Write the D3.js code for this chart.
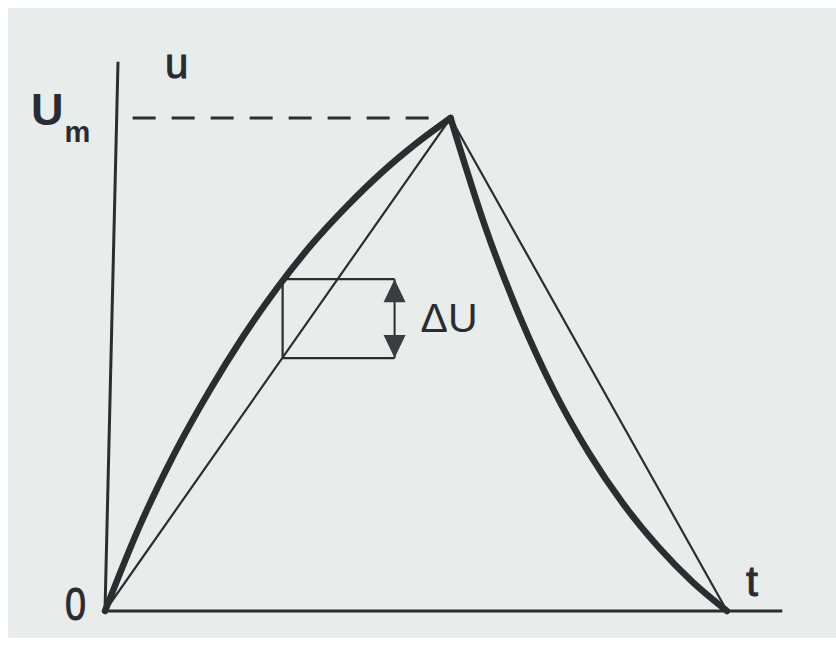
<!DOCTYPE html>
<html>
<head>
<meta charset="utf-8">
<script src="https://cdn.jsdelivr.net/npm/d3@7"></script>
<style>
  html, body { margin: 0; padding: 0; background: #ffffff; }
  svg { display: block; }
  text { font-family: "Liberation Sans", "DejaVu Sans", sans-serif; fill: #2a2c31; }
  .medium { stroke: #2a2c31; stroke-width: 1; }
</style>
</head>
<body>
<div id="d3-container"></div>
<script>
/* CONSTANTS AND GLOBALS */
const width = 836,
  height = 646,
  ink = "#2b2d31";

/* DATA */
// charging part (thick curve), time in arbitrary units, u relative to Um
const riseT = [0, 0.5, 1, 1.5, 2, 2.5, 3, 3.5, 4, 4.5, 5];
const riseU = [0, 0.172, 0.318, 0.444, 0.557, 0.657, 0.745, 0.821, 0.889, 0.948, 1];
// discharging part (thick curve)
const fallT = [5, 5.5, 6, 6.5, 7, 7.5, 8, 8.5, 9];
const fallU = [1, 0.78, 0.598, 0.446, 0.321, 0.217, 0.131, 0.059, 0];
// straight chords (thin lines)
const chordT = [0, 5, 9];
const chordU = [0, 1, 0];
// axis extents
const tMax = 9.8;
const uMax = 1.114;
// ΔU box: left side, arrow position, top and bottom
const deltaT = [2.57, 4.19];
const deltaU = [0.513, 0.673];
// dashed Um guide
const guideT = [0.4, 4.85];
// labels
const uLabel = "u";
const tLabel = "t";
const zeroLabel = "0";
const umMain = "U";
const umSub = "m";
const deltaLabel = "ΔU";

/* SCALES */
const xScale = d3.scaleLinear().domain([0, 9]).range([105, 727]);
const yScale = d3.scaleLinear().domain([0, 1]).range([611, 118]);

const svg = d3.select("#d3-container")
  .append("svg")
  .attr("width", width)
  .attr("height", height);

// paper
svg.append("rect")
  .attr("x", 8).attr("y", 8)
  .attr("width", width - 8).attr("height", 630)
  .attr("fill", "#e8ecea");

// axes
svg.append("line")
  .attr("x1", xScale(0)).attr("y1", yScale(0))
  .attr("x2", xScale(tMax)).attr("y2", yScale(0))
  .attr("stroke", ink).attr("stroke-width", 3);

// the printed y axis leans a little to the right
svg.append("line")
  .attr("x1", xScale(0)).attr("y1", yScale(0))
  .attr("x2", xScale(0) + 13).attr("y2", yScale(uMax))
  .attr("stroke", ink).attr("stroke-width", 3);

// Um dashed guide
svg.append("line")
  .attr("x1", xScale(guideT[0])).attr("y1", yScale(1))
  .attr("x2", xScale(guideT[1])).attr("y2", yScale(1))
  .attr("stroke", ink).attr("stroke-width", 3)
  .attr("stroke-dasharray", "23 16");

const line = d3.line()
  .x(d => xScale(d[0]))
  .y(d => yScale(d[1]));

// thin chords
svg.append("path")
  .datum(chordT.map((t, i) => [t, chordU[i]]))
  .attr("d", line)
  .attr("fill", "none")
  .attr("stroke", ink)
  .attr("stroke-width", 2.2);

// thick curves
const smooth = d3.line()
  .x(d => xScale(d[0]))
  .y(d => yScale(d[1]))
  .curve(d3.curveMonotoneX);

[[riseT, riseU], [fallT, fallU]].forEach(([ts, us]) => {
  svg.append("path")
    .datum(ts.map((t, i) => [t, us[i]]))
    .attr("d", smooth)
    .attr("fill", "none")
    .attr("stroke", ink)
    .attr("stroke-width", 6.5)
    .attr("stroke-linecap", "round");
});

// ΔU box
const bx0 = xScale(deltaT[0]), bx1 = xScale(deltaT[1]),
  by0 = yScale(deltaU[0]), by1 = yScale(deltaU[1]);

svg.append("path")
  .attr("d", `M${bx1},${by1}H${bx0}V${by0}H${bx1}`)
  .attr("fill", "none")
  .attr("stroke", ink)
  .attr("stroke-width", 2.2);

// double arrow
svg.append("line")
  .attr("x1", bx1).attr("y1", by1)
  .attr("x2", bx1).attr("y2", by0)
  .attr("stroke", ink).attr("stroke-width", 2);

const head = 23, half = 11;
svg.append("path")
  .attr("d", `M${bx1},${by1}L${bx1 - half},${by1 + head}H${bx1 + half}Z`)
  .attr("fill", "#3a3c40");
svg.append("path")
  .attr("d", `M${bx1},${by0}L${bx1 - half},${by0 - head}H${bx1 + half}Z`)
  .attr("fill", "#3a3c40");

svg.append("text")
  .attr("x", bx1 + 26).attr("y", by0 - 26)
  .attr("font-size", 41)
  .attr("font-family", "'Open Sans', 'Liberation Sans', sans-serif")
  .attr("font-weight", 300)
  .text(deltaLabel);

// axis labels
svg.append("text")
  .attr("class", "medium")
  .attr("x", 165).attr("y", 78)
  .attr("font-size", 42)
  .text(uLabel);

svg.append("text")
  .attr("class", "medium")
  .attr("x", 746).attr("y", 596)
  .attr("font-size", 43)
  .text(tLabel);

svg.append("text")
  .attr("class", "medium")
  .attr("x", 65).attr("y", 620)
  .attr("font-size", 47)
  .attr("textLength", 21)
  .attr("lengthAdjust", "spacingAndGlyphs")
  .text(zeroLabel);

const um = svg.append("text")
  .attr("x", 31).attr("y", 125)
  .attr("font-size", 45)
  .attr("font-weight", "bold");
um.append("tspan").text(umMain);
um.append("tspan")
  .attr("font-size", 29)
  .attr("dy", 17)
  .attr("dx", 1)
  .text(umSub);
</script>
</body>
</html>
